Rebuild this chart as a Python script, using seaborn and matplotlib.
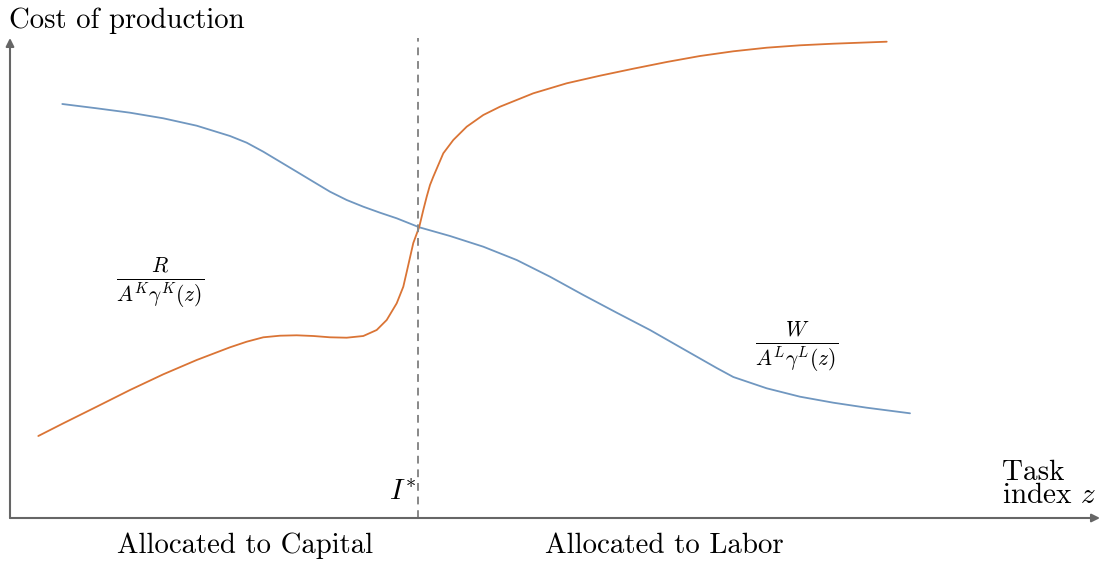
import matplotlib
matplotlib.use("Agg")
import matplotlib.pyplot as plt
import seaborn as sns
import pandas as pd

# Unit cost schedules across the task index (x: task index z, y: cost)
capital_z = [0.283, 0.533, 0.867, 1.2, 1.533, 1.867, 2.2, 2.367, 2.533, 2.7, 2.867, 3.033,
             3.2, 3.367, 3.533, 3.667, 3.767, 3.867, 3.933, 3.967, 4.033, 4.093, 4.133,
             4.167, 4.2, 4.233, 4.333, 4.433, 4.567, 4.733, 4.9, 5.233, 5.567, 5.9, 6.233,
             6.567, 6.9, 7.233, 7.567, 7.9, 8.233, 8.767]
capital_cost = [0.82, 0.947, 1.113, 1.28, 1.437, 1.58, 1.707, 1.763, 1.807, 1.823, 1.827, 1.82,
                1.807, 1.803, 1.82, 1.88, 1.98, 2.147, 2.313, 2.46, 2.75, 2.913, 3.08,
                3.213, 3.33, 3.413, 3.647, 3.78, 3.913, 4.03, 4.113, 4.247, 4.347, 4.423, 4.493,
                4.56, 4.62, 4.667, 4.703, 4.727, 4.743, 4.763]
labor_z = [0.523, 0.867, 1.2, 1.533, 1.867, 2.2, 2.367, 2.533, 2.7, 2.867, 3.033, 3.2, 3.367,
           3.533, 3.7, 3.867, 4.093, 4.4, 4.733, 5.067, 5.4, 5.733, 6.067, 6.4, 6.733, 7.067,
           7.233, 7.567, 7.9, 8.233, 8.567, 9.0]
labor_cost = [4.14, 4.097, 4.053, 3.997, 3.923, 3.82, 3.753, 3.663, 3.563, 3.463, 3.363, 3.263,
              3.18, 3.113, 3.053, 2.997, 2.907, 2.82, 2.713, 2.58, 2.413, 2.23, 2.053, 1.88,
              1.69, 1.5, 1.41, 1.297, 1.213, 1.153, 1.103, 1.047]
cutoff = 4.08

capital_df = pd.DataFrame({"z": capital_z, "cost": capital_cost})
labor_df = pd.DataFrame({"z": labor_z, "cost": labor_cost})

sns.set_style("white")
plt.rcParams["font.family"] = ["cmr10", "DejaVu Serif"]
plt.rcParams["mathtext.fontset"] = "cm"
plt.rcParams["axes.unicode_minus"] = False
plt.rcParams["axes.formatter.use_mathtext"] = True
plt.rcParams["text.color"] = "black"

fig = plt.figure(figsize=(11.01, 5.63), dpi=100)
W_PX, H_PX = 1101, 563
ax = fig.add_axes([10 / W_PX, (H_PX - 518) / H_PX, 1090 / W_PX, 480 / H_PX])
ax.set_xlim(0, 10.9)
ax.set_ylim(0, 4.8)
for s in ax.spines.values():
    s.set_visible(False)
ax.set_xticks([])
ax.set_yticks([])

sns.lineplot(data=labor_df, x="z", y="cost", sort=False, color="#7097c0", lw=1.3, ax=ax)
sns.lineplot(data=capital_df, x="z", y="cost", sort=False, color="#da7435", lw=1.3, ax=ax)

# equilibrium threshold
ax.plot([cutoff, cutoff], [0, 4.8], ls=(0, (4, 3)), color="#888888", lw=1.4, clip_on=False)

# axes drawn as arrows
arrow = dict(arrowstyle="-|>", color="#666666", lw=1.5, mutation_scale=12, shrinkA=0, shrinkB=0)
ax.annotate("", xy=(10.9, 0), xytext=(0, 0), arrowprops=arrow, annotation_clip=False)
ax.annotate("", xy=(0, 4.8), xytext=(0, 0), arrowprops=arrow, annotation_clip=False)

ax.set_xlabel("")
ax.set_ylabel("")

fig.text(9 / W_PX, 1 - 21 / H_PX, "Cost of production", fontsize=20.7, va="center", ha="left")
fig.text(1002 / W_PX, 1 - 484 / H_PX, "Task\nindex $z$", fontsize=21, va="center", ha="left",
         linespacing=0.82)
fig.text(245 / W_PX, 1 - 546 / H_PX, "Allocated to Capital", fontsize=20.7, va="center", ha="center")
fig.text(664 / W_PX, 1 - 546 / H_PX, "Allocated to Labor", fontsize=20.8, va="center", ha="center")
ax.text(cutoff - 0.02, 0.25, r"$I^{*}$", fontsize=21, ha="right", va="center")
ax.text(1.5, 2.35, r"$\frac{R}{A^K\gamma^K(z)}$", fontsize=22, ha="center", va="center")
ax.text(7.87, 1.71, r"$\frac{W}{A^L\gamma^L(z)}$", fontsize=22, ha="center", va="center")

fig.savefig("out.png", dpi=100)
